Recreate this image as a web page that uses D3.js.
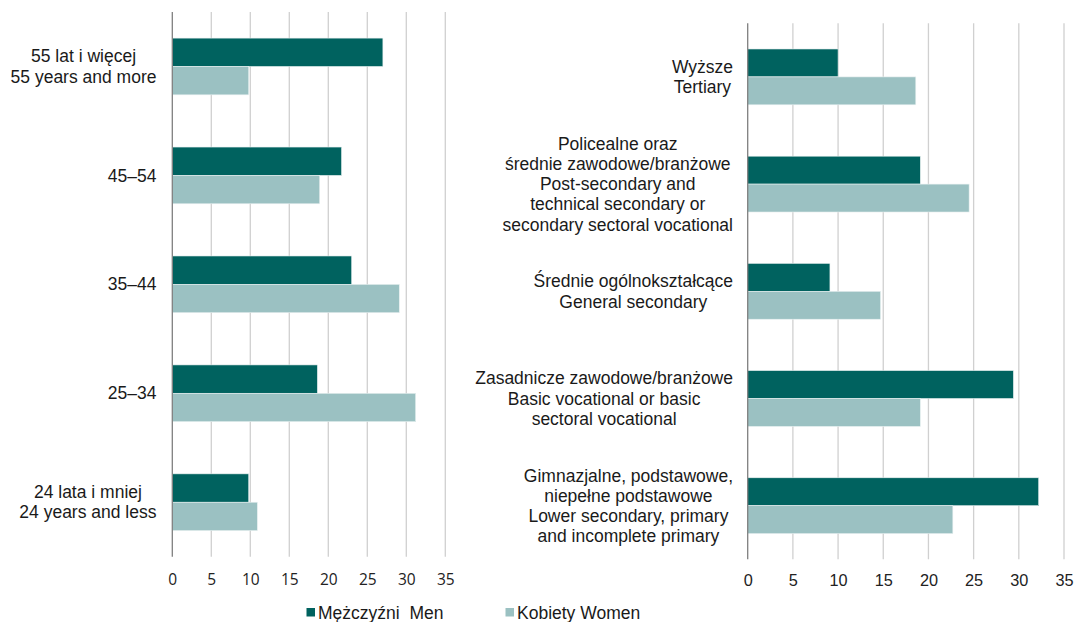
<!DOCTYPE html>
<html>
<head>
<meta charset="utf-8">
<script src="https://cdn.jsdelivr.net/npm/d3@7"></script>
<style>
  html, body { margin: 0; padding: 0; background: #ffffff; }
  svg { display: block; }
  .lbl { font-family: "Liberation Sans", Arial, sans-serif; font-size: 17.5px; fill: #1a1a1a; }
  .tick text { fill: #222; }
  .ticksA .tick text { font-family: "Open Sans", "Liberation Sans", sans-serif; font-size: 15.5px; }
  .ticksB .tick text { font-family: "Liberation Sans", Arial, sans-serif; font-size: 16.3px; }
</style>
</head>
<body>
<svg id="chart" width="1076" height="622"></svg>
<script>
// ---- data ----
const ageCategories = [
  ["55 lat i więcej", "55 years and more"],
  ["45–54"],
  ["35–44"],
  ["25–34"],
  ["24 lata i mniej", "24 years and less"]
];
const ageMen   = [27.0, 21.7, 23.0, 18.6, 9.8];
const ageWomen = [9.8, 18.9, 29.1, 31.2, 10.9];

const eduCategories = [
  ["Wyższe", "Tertiary"],
  ["Policealne oraz", "średnie zawodowe/branżowe", "Post-secondary and", "technical secondary or", "secondary sectoral vocational"],
  ["Średnie ogólnokształcące", "General secondary"],
  ["Zasadnicze zawodowe/branżowe", "Basic vocational or basic", "sectoral vocational"],
  ["Gimnazjalne, podstawowe,", "niepełne podstawowe", "Lower secondary, primary", "and incomplete primary"]
];
const eduMen   = [10.0, 19.1, 9.1, 29.4, 32.2];
const eduWomen = [18.6, 24.5, 14.7, 19.1, 22.7];

const xTicks = [0, 5, 10, 15, 20, 25, 30, 35];
const seriesNames = ["Mężczyźni  Men", "Kobiety Women"];
const seriesColors = ["#00625f", "#9bc1c2"];

// ---- drawing ----
const svg = d3.select("#chart");

function panel(cfg) {
  const { cats, men, women, x0, x1, y0, y1, labelRight, tickY, tickClass } = cfg;
  const g = svg.append("g");
  const x = d3.scaleLinear().domain([0, 35]).range([x0, x1]);
  const idx = cats.map((d, i) => i);
  const y = d3.scaleBand().domain(idx).range([y0, y1]).paddingInner(0).paddingOuter(0);
  const ys = d3.scaleBand().domain([0, 1]).range([0, y.bandwidth()]).paddingInner(0).paddingOuter(0.92);

  // grid
  g.append("g").selectAll("line").data(xTicks.slice(1)).join("line")
    .attr("x1", d => x(d)).attr("x2", d => x(d))
    .attr("y1", y0).attr("y2", y1)
    .attr("stroke", "#d0d0d0").attr("stroke-width", 1.3);

  // bars
  const rows = [];
  idx.forEach(i => { rows.push({ i, s: 0, v: men[i] }); rows.push({ i, s: 1, v: women[i] }); });
  g.append("g").selectAll("rect").data(rows).join("rect")
    .attr("x", x(0))
    .attr("y", d => y(d.i) + ys(d.s))
    .attr("width", d => x(d.v) - x(0))
    .attr("height", ys.bandwidth())
    .attr("fill", d => seriesColors[d.s])
    .attr("stroke", "#e8f0f0").attr("stroke-width", 0.6);

  // axis line at 0
  g.append("line").attr("x1", x(0)).attr("x2", x(0)).attr("y1", y0).attr("y2", y1)
    .attr("stroke", "#7f7f7f").attr("stroke-width", 1.3);

  // x axis tick labels
  const ax = g.append("g").attr("class", tickClass).attr("transform", `translate(0,${tickY})`)
    .call(d3.axisBottom(x).tickValues(xTicks).tickSize(0).tickPadding(0).tickFormat(d3.format("d")));
  ax.select(".domain").remove();
  ax.attr("font-family", null).attr("font-size", null);
  ax.selectAll(".tick text").attr("dy", "0.35em").attr("y", 0);

  // category labels
  const lh = 20.2;
  idx.forEach(i => {
    const lines = cats[i];
    const cy = y(i) + y.bandwidth() / 2;
    const t = g.append("text").attr("class", "lbl").attr("text-anchor", "middle");
    lines.forEach((ln, k) => {
      t.append("tspan").attr("x", 0)
        .attr("y", cy + (k - (lines.length - 1) / 2) * lh)
        .attr("dy", "0.35em").text(ln);
    });
    let maxW = 0;
    t.selectAll("tspan").each(function () { maxW = Math.max(maxW, this.getComputedTextLength()); });
    t.selectAll("tspan").attr("x", labelRight - maxW / 2);
  });
}

panel({ cats: ageCategories, men: ageMen, women: ageWomen,
  x0: 172.3, x1: 445.3, y0: 12, y1: 556.7, labelRight: 156.5, tickY: 579.3, tickClass: "ticksA" });
panel({ cats: eduCategories, men: eduMen, women: eduWomen,
  x0: 747.7, x1: 1064, y0: 23.3, y1: 559.3, labelRight: 733, tickY: 579.8, tickClass: "ticksB" });

// legend
const legendX = [306.5, 505.5];
const lg = svg.append("g");
seriesNames.forEach((name, i) => {
  lg.append("rect").attr("x", legendX[i]).attr("y", 608).attr("width", 8.5).attr("height", 8.5)
    .attr("fill", seriesColors[i]);
  lg.append("text").attr("class", "lbl").attr("x", legendX[i] + 11.5).attr("y", 612.5)
    .attr("dy", "0.35em").style("white-space", "pre").text(name);
});
</script>
</body>
</html>
